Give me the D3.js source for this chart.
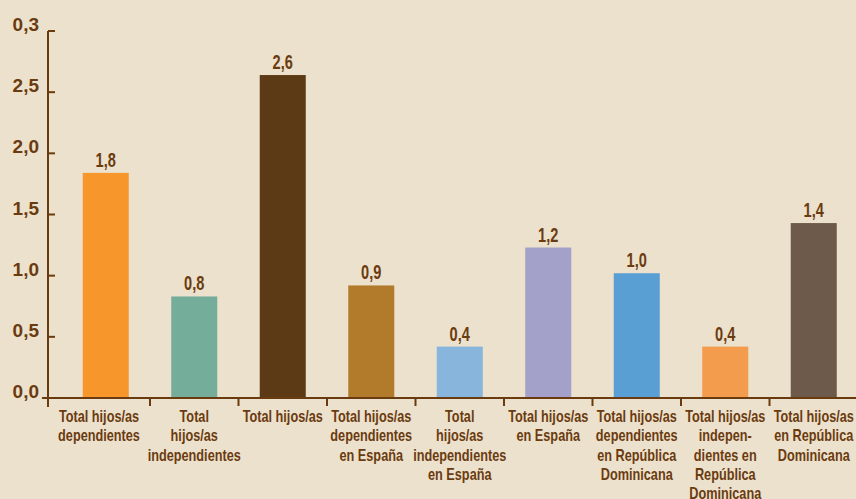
<!DOCTYPE html>
<html>
<head>
<meta charset="utf-8">
<script src="https://cdn.jsdelivr.net/npm/d3@7"></script>
<style>
  html, body { margin: 0; padding: 0; background: #ebe1cc; }
  svg { display: block; }
  text { font-family: "Liberation Sans", Arial, sans-serif; font-weight: bold; fill: #6b3b10; }
  .cat { font-size: 16.5px; }
  .val { font-size: 20px; }
  .ytick { font-size: 19px; }
</style>
</head>
<body>
<svg id="chart" width="856" height="499"></svg>
<script>
// categories as they are broken into lines under the axis
const categories = [
  ['Total hijos/as', 'dependientes'],
  ['Total', 'hijos/as', 'independientes'],
  ['Total hijos/as'],
  ['Total hijos/as', 'dependientes', 'en España'],
  ['Total', 'hijos/as', 'independientes', 'en España'],
  ['Total hijos/as', 'en España'],
  ['Total hijos/as', 'dependientes', 'en República', 'Dominicana'],
  ['Total hijos/as', 'indepen-', 'dientes en', 'República', 'Dominicana'],
  ['Total hijos/as', 'en República', 'Dominicana']
];
const values = [1.84, 0.83, 2.64, 0.92, 0.42, 1.23, 1.02, 0.42, 1.43];
const colors = ['#f7962b', '#74ae9a', '#5c3a16', '#b27b2c', '#88b5dc', '#a3a0c9', '#5a9fd4', '#f39c4e', '#6e5a4a'];
const yTicks = [0, 0.5, 1, 1.5, 2, 2.5, 3];
const yTickLabels = ['0,0', '0,5', '1,0', '1,5', '2,0', '2,5', '0,3'];

const AXIS = '#6b3b10';
const NARROW = 0.77; // the original type is a condensed face
const svg = d3.select('#chart');

const x = d3.scaleBand()
  .domain(d3.range(values.length))
  .range([61.5, 858])
  .paddingInner(0.48)
  .paddingOuter(0.24);
const y = d3.scaleLinear().domain([0, 3]).range([398, 31]);

const axisX = 48;
const gap = x.step() * x.paddingInner();
// boundaries between categories (where the x ticks sit)
const bounds = d3.range(1, values.length).map(i => x(i) - gap / 2);

// bars
svg.append('g').selectAll('rect').data(values).enter().append('rect')
  .attr('x', (d, i) => x(i))
  .attr('y', d => y(d))
  .attr('width', x.bandwidth())
  .attr('height', d => y(0) - y(d))
  .attr('fill', (d, i) => colors[i]);

// value labels
const fmt = d3.format('.1f');
svg.append('g').selectAll('text').data(values).enter().append('text')
  .attr('class', 'val')
  .attr('text-anchor', 'middle')
  .attr('transform', (d, i) => `translate(${x(i) + x.bandwidth() / 2},${y(d) - 6}) scale(0.73,1)`)
  .text(d => fmt(d).replace('.', ','));

// axes
const ax = svg.append('g').attr('stroke', AXIS).attr('stroke-width', 2).attr('fill', 'none');
ax.append('line').attr('x1', axisX).attr('x2', axisX).attr('y1', y(3)).attr('y2', y(0) + 9);
ax.append('line').attr('x1', 42).attr('x2', 856).attr('y1', y(0)).attr('y2', y(0));
ax.selectAll('.yt').data(yTicks).enter().append('line')
  .attr('x1', axisX).attr('x2', axisX + 7)
  .attr('y1', d => y(d)).attr('y2', d => y(d));
ax.selectAll('.xt').data(bounds).enter().append('line')
  .attr('x1', d => d).attr('x2', d => d)
  .attr('y1', y(0)).attr('y2', y(0) + 8);

svg.append('g').selectAll('text').data(yTicks).enter().append('text')
  .attr('class', 'ytick')
  .attr('x', 39)
  .attr('y', d => y(d))
  .attr('text-anchor', 'end')
  .text((d, i) => yTickLabels[i]);

// category labels, centred between the ticks
const edges = [axisX, ...bounds, 858];
const cat = svg.append('g').selectAll('text').data(categories).enter().append('text')
  .attr('class', 'cat')
  .attr('text-anchor', 'middle')
  .attr('transform', (d, i) => `translate(${(edges[i] + edges[i + 1]) / 2},422) scale(${NARROW},1)`);
cat.selectAll('tspan').data(d => d).enter().append('tspan')
  .attr('x', 0)
  .attr('y', (d, j) => j * 19.3)
  .text(d => d);
</script>
</body>
</html>
